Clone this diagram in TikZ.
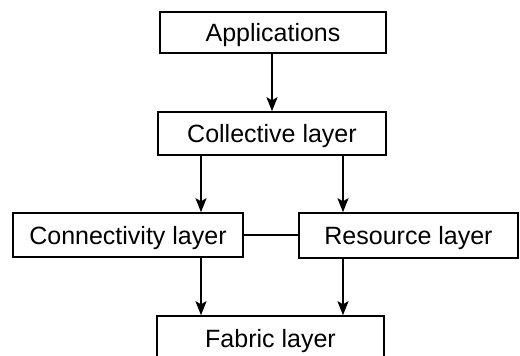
\documentclass[tikz,border=0pt]{standalone}
\usepackage{fontspec}
\setmainfont{Liberation Sans}
\usetikzlibrary{arrows.meta}
\begin{document}
\begin{tikzpicture}[x=1pt,y=-1pt,
  layer/.style={draw, line width=1.5pt, inner sep=0pt, font=\fontsize{25}{28}\selectfont,
    text height=18pt, text depth=0pt},
  arr/.style={line width=1.5pt, -{Stealth[length=14pt,width=11pt,inset=3pt]}},
  link/.style={line width=1.2pt}]
\useasboundingbox (0,0) rectangle (520,356);
\clip (0,0) rectangle (520,356);
\node[layer, minimum width=226pt, minimum height=41pt] (app) at (273,32.5) {Applications};
\node[layer, minimum width=228pt, minimum height=43pt] (coll) at (272,133.5) {Collective layer};
\node[layer, minimum width=230pt, minimum height=44pt] (conn) at (128,235) {Connectivity layer};
\node[layer, minimum width=219pt, minimum height=45pt] (res) at (408.5,235.5) {Resource layer};
\node[layer, minimum width=227pt, minimum height=44pt] (fab) at (270.5,338) {Fabric layer};
\coordinate (l) at (201,0);
\coordinate (r) at (343,0);
\draw[arr] (app.south -| coll.north) -- (coll.north);
\draw[arr] (l |- coll.south) -- (l |- conn.north);
\draw[arr] (r |- coll.south) -- (r |- res.north);
\draw[arr] (l |- conn.south) -- (l |- fab.north);
\draw[arr] (r |- res.south) -- (r |- fab.north);
\draw[link] (conn.east) -- (conn.east -| res.west);
\end{tikzpicture}
\end{document}
